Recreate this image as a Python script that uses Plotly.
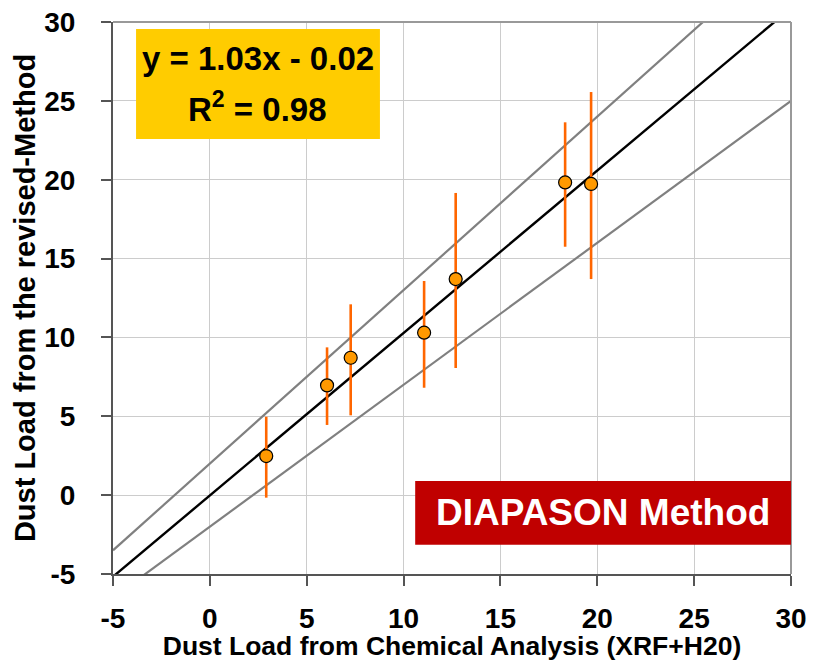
import plotly.graph_objects as go

# Data
x_chem = [2.91, 6.05, 7.27, 11.06, 12.69, 18.34, 19.68]
y_rev = [2.48, 6.96, 8.71, 10.30, 13.70, 19.83, 19.73]
err_top = [4.97, 9.37, 12.10, 13.58, 19.16, 23.64, 25.56]
err_bottom = [-0.16, 4.45, 5.06, 6.81, 8.06, 15.75, 13.70]

fit_slope, fit_intercept = 1.03, -0.02
upper_slope, upper_intercept = 1.1, 2.0
lower_slope, lower_intercept = 0.9, -2.0
line_x = [-5, 30]

x_ticks = [-5, 0, 5, 10, 15, 20, 25, 30]
y_ticks = [-5, 0, 5, 10, 15, 20, 25, 30]

err_plus = [t - y for t, y in zip(err_top, y_rev)]
err_minus = [y - b for b, y in zip(err_bottom, y_rev)]

fig = go.Figure()

for s, b in [(upper_slope, upper_intercept), (lower_slope, lower_intercept)]:
    fig.add_trace(go.Scatter(x=line_x, y=[s * v + b for v in line_x], mode="lines",
                             line=dict(color="#808080", width=2.2), showlegend=False,
                             hoverinfo="skip"))

fig.add_trace(go.Scatter(x=line_x, y=[fit_slope * v + fit_intercept for v in line_x],
                         mode="lines", line=dict(color="#000000", width=2.4),
                         showlegend=False, hoverinfo="skip"))

fig.add_trace(go.Scatter(
    x=x_chem, y=y_rev, mode="markers",
    marker=dict(size=13, color="#FF9900", line=dict(color="#000000", width=1.2)),
    error_y=dict(type="data", symmetric=False, array=err_plus, arrayminus=err_minus,
                 color="#FF6600", thickness=2.6, width=0),
    showlegend=False, cliponaxis=False))

font_family = "Liberation Sans, Arial, sans-serif"

fig.update_layout(
    width=813, height=661,
    margin=dict(l=113, r=22, t=22, b=87, autoexpand=False),
    paper_bgcolor="white", plot_bgcolor="white",
    font=dict(family=font_family, color="#000000"),
    xaxis=dict(range=[-5, 30], tickvals=x_ticks, ticktext=[str(v) for v in x_ticks],
               automargin=False,
               showgrid=True, gridcolor="#cccccc", gridwidth=1.2,
               zeroline=False, showline=True, linecolor="#555555", linewidth=2,
               ticks="outside", ticklen=10, tickcolor="#555555", tickwidth=1.5,
               tickfont=dict(size=28, family=font_family, color="#000000", weight="bold"),
               ticklabelstandoff=8,
               title=dict(text="<b>Dust Load from Chemical Analysis (XRF+H20)</b>",
                          font=dict(size=26.5, family=font_family), standoff=0)),
    yaxis=dict(range=[-5, 30], tickvals=y_ticks, ticktext=[str(v) for v in y_ticks],
               automargin=False,
               showgrid=True, gridcolor="#cccccc", gridwidth=1.2,
               zeroline=False, showline=True, linecolor="#555555", linewidth=2,
               ticks="outside", ticklen=10, tickcolor="#555555", tickwidth=1.5,
               tickfont=dict(size=28, family=font_family, color="#000000", weight="bold"),
               ticklabelstandoff=20,
               title=dict(text="<b>Dust Load from the revised-Method</b>",
                          font=dict(size=29, family=font_family), standoff=0)),
)

# plot border (top and right lighter gray)
fig.add_shape(type="line", xref="paper", yref="paper", x0=0, x1=1, y0=1, y1=1,
              line=dict(color="#999999", width=2))
fig.add_shape(type="line", xref="paper", yref="paper", x0=1, x1=1, y0=0, y1=1,
              line=dict(color="#999999", width=2))

# Equation box
fig.add_shape(type="rect", xref="x", yref="y", x0=-3.81, x1=8.78, y0=22.58, y1=29.56,
              fillcolor="#FFCC00", line=dict(width=0), layer="above")
fig.add_annotation(x=2.48, y=27.7, xref="x", yref="y", showarrow=False,
                   text="<b>y = 1.03x - 0.02</b>", font=dict(size=33, family=font_family, color="#000000"))
fig.add_annotation(x=2.48, y=24.6, xref="x", yref="y", showarrow=False,
                   text="<b>R<sup>2</sup> = 0.98</b>", font=dict(size=33, family=font_family, color="#000000"))

# Method box
fig.add_shape(type="rect", xref="x", yref="y", x0=10.6, x1=30, y0=-3.15, y1=0.89,
              fillcolor="#C00000", line=dict(width=0), layer="above")
fig.add_annotation(x=20.3, y=-1.1, xref="x", yref="y", showarrow=False,
                   text="<b>DIAPASON Method</b>", font=dict(size=37, family=font_family, color="#FFFFFF"))

fig.write_html("out.html")
